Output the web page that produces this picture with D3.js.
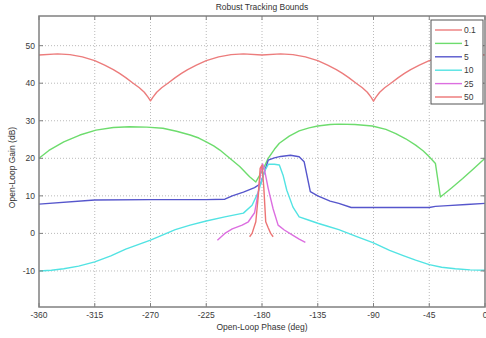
<!DOCTYPE html>
<html>
<head>
<meta charset="utf-8">
<script src="https://cdn.jsdelivr.net/npm/d3@7"></script>
<style>
  body { margin: 0; background: #fff; }
  svg { display: block; font-family: "Liberation Sans", Arial, sans-serif; }
</style>
</head>
<body>
<div id="chart"></div>
<script>
// legend labels (frequencies)
const seriesNames = ["0.1", "1", "5", "10", "25", "50"];
const seriesColors = ["#ec7c7c", "#6ddc6d", "#5656cc", "#52e3e3", "#dc6ee0", "#ec7474"];

const xTicks = [-360, -315, -270, -225, -180, -135, -90, -45, 0];
const yTicks = [-10, 0, 10, 20, 30, 40, 50];

// bound 0.1
const phase01 = [-360, -345, -335, -325, -315, -307, -300, -295, -290, -284, -279, -275, -272, -270, -268, -265, -261,
  -256, -250, -245, -240, -233, -225, -215, -205, -195, -180, -165, -155, -145, -135, -127, -120, -115, -110, -104,
  -99, -95, -92, -90, -88, -85, -81, -76, -70, -65, -60, -53, -45, -35, -25, -15, 0];
const gain01 = [47.5, 47.8, 47.6, 47.0, 46.0, 44.8, 43.6, 42.6, 41.5, 40.0, 38.8, 37.6, 36.3, 35.3, 36.3, 37.6, 38.8,
  40.0, 41.5, 42.6, 43.6, 44.8, 46.0, 47.0, 47.6, 47.8, 47.5, 47.8, 47.6, 47.0, 46.0, 44.8, 43.6, 42.6, 41.5, 40.0,
  38.8, 37.6, 36.3, 35.2, 36.3, 37.6, 38.8, 40.0, 41.5, 42.6, 43.6, 44.8, 46.0, 47.0, 47.6, 47.8, 47.5];

// bound 1
const phase1 = [-360, -352, -340, -327, -314, -300, -287, -273, -260, -249, -238, -231, -225, -219, -214, -206, -198,
  -190, -185, -180, -175, -170, -166, -158, -150, -142, -135, -125, -118, -105, -91, -80, -72, -64, -56, -50, -45,
  -40, -36, -27, -18, -9, 0];
const gain1 = [20, 22.1, 24.4, 26.2, 27.5, 28.2, 28.4, 28.3, 28.0, 27.2, 26.2, 25.4, 24.4, 23.3, 22.2, 20, 17.8,
  15.1, 13.7, 16.5, 20, 22.4, 24.0, 25.9, 27.3, 28.1, 28.6, 29.0, 29.1, 29.0, 28.6, 27.7, 26.6, 25.2, 23.5, 22.0, 20.4,
  18.6, 9.7, 12.1, 14.6, 17.3, 20];

// bound 5
const phase5 = [-360, -315, -270, -225, -210, -204, -195, -186, -181, -178, -175, -170, -165, -157, -150, -146,
  -141, -135, -125, -118, -108, -90, -60, -45, -40, -30, -15, 0];
const gain5 = [7.8, 8.9, 9.0, 9.0, 9.1, 10.0, 11.0, 12.2, 13.3, 16.5, 19.5, 20.1, 20.5, 20.8, 20.4, 19.1,
  11.1, 10.0, 8.6, 8.0, 6.9, 6.9, 6.9, 6.9, 7.2, 7.4, 7.7, 8.0];

// bound 10
const phase10 = [-360, -350, -340, -328, -315, -302, -290, -280, -270, -260, -250, -238, -225, -210, -195, -188,
  -183, -178, -175, -170, -166, -163, -160, -155, -150, -142, -135, -127, -118, -104, -90, -77, -66, -56, -45, -35,
  -24, -12, 0];
const gain10 = [-10, -9.8, -9.4, -8.7, -7.6, -6.0, -4.2, -3.0, -1.8, -0.4, 1.0, 2.2, 3.3, 4.4, 5.4, 7.5,
  11, 16.5, 18.4, 18.4, 18.2, 15.5, 11.5, 7.0, 4.4, 3.5, 2.7, 1.9, 1.0, -0.8, -2.5, -4.5, -5.9, -7.1, -8.3, -9.0,
  -9.4, -9.7, -9.8];

// bound 25
const phase25 = [-216, -210, -204, -196, -191, -186, -183, -181, -179.5, -178, -175, -171, -167, -162, -155, -150, -145];
const gain25 = [-1.8, 0, 1.2, 2.2, 3.1, 5.5, 11, 16.4, 18.5, 17, 12, 6.5, 2.2, 0.9, -0.5, -1.5, -2.4];

// bound 50
const phase50 = [-190, -188, -185, -183, -181.5, -180, -178.5, -177, -175, -173, -171];
const gain50 = [-0.9, 0, 3.1, 10, 17.3, 18.2, 12, 3.1, 1.5, 0, -0.9];

const phases = [phase01, phase1, phase5, phase10, phase25, phase50];
const gains = [gain01, gain1, gain5, gain10, gain25, gain50];

const width = 486, height = 338;
const margin = { top: 16, right: 1, bottom: 31, left: 39 };

const svg = d3.select("#chart").append("svg")
  .attr("width", width)
  .attr("height", height);

const x = d3.scaleLinear().domain([-360, 0]).range([margin.left, width - margin.right]);
const y = d3.scaleLinear().domain([-19.6, 57.9]).range([height - margin.bottom, margin.top]);

const x0 = margin.left, x1 = width - margin.right;
const y0 = margin.top, y1 = height - margin.bottom;

// grid
const grid = svg.append("g")
  .attr("stroke", "#a8a8a8")
  .attr("stroke-width", 0.8)
  .attr("stroke-dasharray", "1,2");
grid.selectAll(".gx")
  .data(xTicks.filter(d => d > -360 && d < 0))
  .enter().append("line")
  .attr("x1", d => x(d)).attr("x2", d => x(d))
  .attr("y1", y0).attr("y2", y1);
grid.selectAll(".gy")
  .data(yTicks)
  .enter().append("line")
  .attr("x1", x0).attr("x2", x1)
  .attr("y1", d => y(d)).attr("y2", d => y(d));

// curves
const line = d3.line()
  .x(d => x(d[0]))
  .y(d => y(d[1]));

svg.append("g")
  .selectAll("path")
  .data(phases.map((p, i) => p.map((v, j) => [v, gains[i][j]])))
  .enter().append("path")
  .attr("d", line)
  .attr("fill", "none")
  .attr("stroke", (d, i) => seriesColors[i])
  .attr("stroke-width", 1.4)
  .attr("stroke-linejoin", "round");

// axes (ticks inward, box)
const tickColor = "#808080";
const tk = 4;
const axes = svg.append("g").attr("stroke", tickColor).attr("stroke-width", 1);
axes.selectAll(".tb")
  .data(xTicks)
  .enter().append("line")
  .attr("x1", d => x(d)).attr("x2", d => x(d))
  .attr("y1", y1).attr("y2", y1 - tk);
axes.selectAll(".tt")
  .data(xTicks)
  .enter().append("line")
  .attr("x1", d => x(d)).attr("x2", d => x(d))
  .attr("y1", y0).attr("y2", y0 + tk);
axes.selectAll(".tl")
  .data(yTicks)
  .enter().append("line")
  .attr("x1", x0).attr("x2", x0 + tk)
  .attr("y1", d => y(d)).attr("y2", d => y(d));
axes.selectAll(".tr")
  .data(yTicks)
  .enter().append("line")
  .attr("x1", x1).attr("x2", x1 - tk)
  .attr("y1", d => y(d)).attr("y2", d => y(d));

svg.append("rect")
  .attr("x", x0).attr("y", y0)
  .attr("width", x1 - x0).attr("height", y1 - y0)
  .attr("fill", "none")
  .attr("stroke", tickColor)
  .attr("stroke-width", 1.5);

// tick labels
svg.append("g")
  .selectAll("text")
  .data(xTicks)
  .enter().append("text")
  .attr("x", d => x(d))
  .attr("y", y1 + 11)
  .attr("text-anchor", "middle")
  .attr("font-size", "8.5px")
  .attr("fill", "#3a3a3a")
  .text(d => d);

svg.append("g")
  .selectAll("text")
  .data(yTicks)
  .enter().append("text")
  .attr("x", x0 - 4)
  .attr("y", d => y(d) + 3)
  .attr("text-anchor", "end")
  .attr("font-size", "8.5px")
  .attr("fill", "#3a3a3a")
  .text(d => d);

// titles
svg.append("text")
  .attr("x", (x0 + x1) / 2)
  .attr("y", 10)
  .attr("text-anchor", "middle")
  .attr("font-size", "8.5px")
  .attr("fill", "#333")
  .text("Robust Tracking Bounds");

svg.append("text")
  .attr("x", (x0 + x1) / 2)
  .attr("y", 330)
  .attr("text-anchor", "middle")
  .attr("font-size", "8.5px")
  .attr("fill", "#333")
  .text("Open-Loop Phase (deg)");

svg.append("text")
  .attr("transform", "translate(15," + ((y0 + y1) / 2 + 6) + ")rotate(-90)")
  .attr("text-anchor", "middle")
  .attr("font-size", "8.5px")
  .attr("fill", "#333")
  .text("Open-Loop Gain (dB)");

// legend
const lg = svg.append("g").attr("transform", "translate(431,20)");
lg.append("rect")
  .attr("width", 52).attr("height", 84)
  .attr("fill", "#fff")
  .attr("stroke", "#555")
  .attr("stroke-width", 1);
seriesNames.forEach((name, i) => {
  const ly = 10 + i * 13.4;
  lg.append("line")
    .attr("x1", 4).attr("x2", 31)
    .attr("y1", ly).attr("y2", ly)
    .attr("stroke", seriesColors[i])
    .attr("stroke-width", 1.4);
  lg.append("text")
    .attr("x", 33)
    .attr("y", ly + 3)
    .attr("font-size", "8.5px")
    .attr("fill", "#3a3a3a")
    .text(name);
});
</script>
</body>
</html>
